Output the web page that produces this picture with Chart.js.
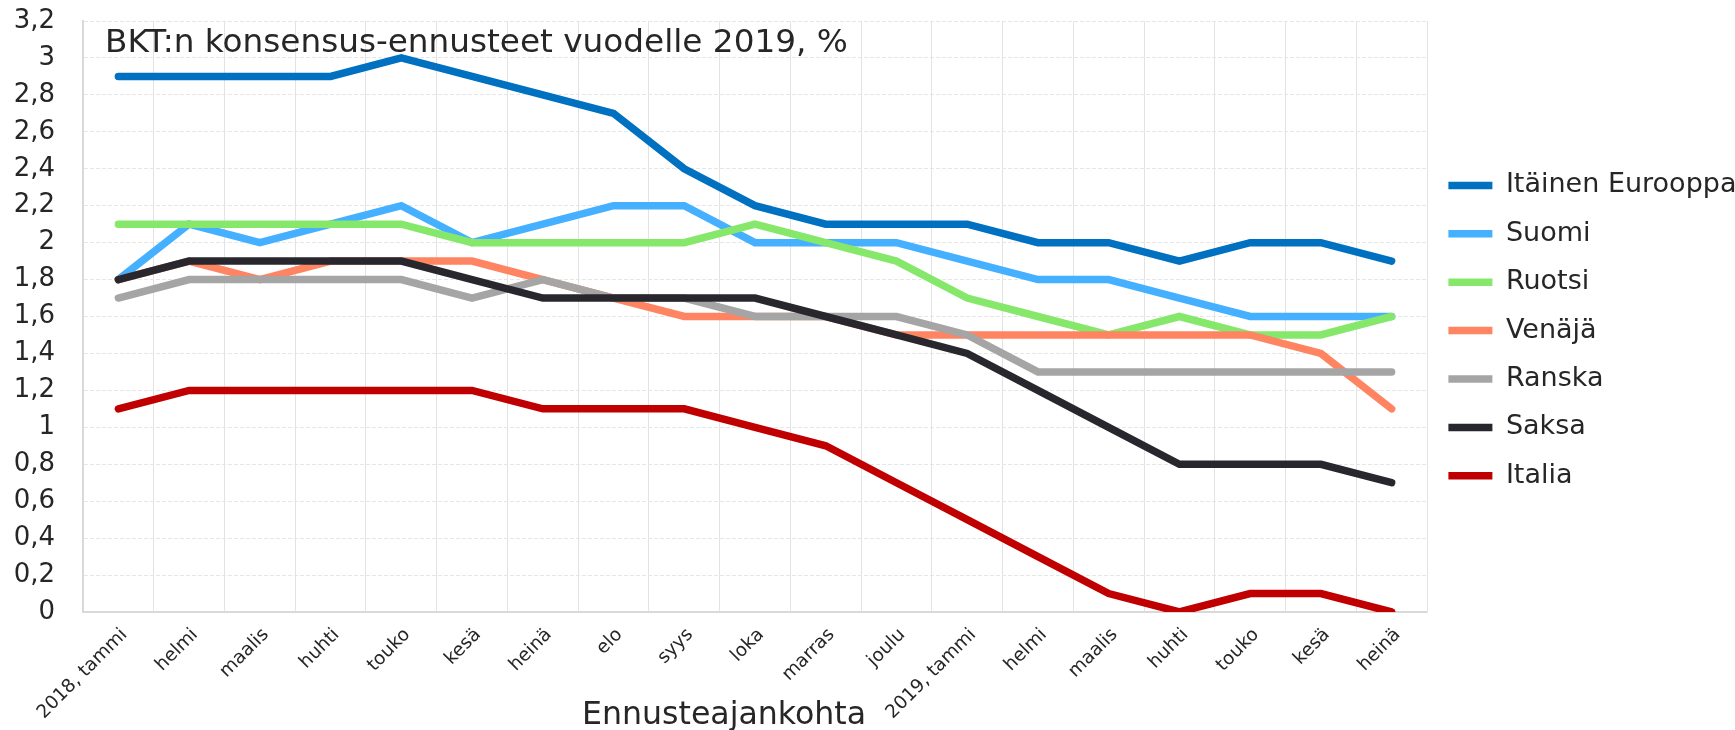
<!DOCTYPE html>
<html><head><meta charset="utf-8">
<script src="https://cdn.jsdelivr.net/npm/chart.js@4/dist/chart.umd.min.js"></script>
<style>
html,body{margin:0;padding:0;background:#fff;}
#wrap{position:relative;width:1735px;height:730px;overflow:hidden;}
.lbl{position:absolute;font-family:'DejaVu Sans',Verdana,sans-serif;color:#262626;white-space:nowrap;line-height:40px;}
#title{left:105px;top:21px;font-size:32.7px;}
#xtitle{left:582px;top:693px;font-size:31.6px;}
</style></head>
<body><div id="wrap"><canvas id="c" width="1735" height="730"></canvas>
<div id="title" class="lbl">BKT:n konsensus-ennusteet vuodelle 2019, %</div>
<div id="xtitle" class="lbl">Ennusteajankohta</div></div>
<script>
const categories = ["2018, tammi","helmi","maalis","huhti","touko","kesä","heinä","elo","syys","loka","marras","joulu","2019, tammi","helmi","maalis","huhti","touko","kesä","heinä"];
const itainenEurooppa = [2.9,2.9,2.9,2.9,3.0,2.9,2.8,2.7,2.4,2.2,2.1,2.1,2.1,2.0,2.0,1.9,2.0,2.0,1.9];
const suomi   = [1.8,2.1,2.0,2.1,2.2,2.0,2.1,2.2,2.2,2.0,2.0,2.0,1.9,1.8,1.8,1.7,1.6,1.6,1.6];
const ruotsi  = [2.1,2.1,2.1,2.1,2.1,2.0,2.0,2.0,2.0,2.1,2.0,1.9,1.7,1.6,1.5,1.6,1.5,1.5,1.6];
const venaja  = [1.8,1.9,1.8,1.9,1.9,1.9,1.8,1.7,1.6,1.6,1.6,1.5,1.5,1.5,1.5,1.5,1.5,1.4,1.1];
const ranska  = [1.7,1.8,1.8,1.8,1.8,1.7,1.8,1.7,1.7,1.6,1.6,1.6,1.5,1.3,1.3,1.3,1.3,1.3,1.3];
const saksa   = [1.8,1.9,1.9,1.9,1.9,1.8,1.7,1.7,1.7,1.7,1.6,1.5,1.4,1.2,1.0,0.8,0.8,0.8,0.7];
const italia  = [1.1,1.2,1.2,1.2,1.2,1.2,1.1,1.1,1.1,1.0,0.9,0.7,0.5,0.3,0.1,0.0,0.1,0.1,0.0];
const seriesNames = ["Itäinen Eurooppa","Suomi","Ruotsi","Venäjä","Ranska","Saksa","Italia"];
const seriesValues = [itainenEurooppa, suomi, ruotsi, venaja, ranska, saksa, italia];
const seriesColors = ["#0070C0","#45B0FF","#86E86A","#FF8461","#A5A5A5","#28272E","#C00000"];
const yMin = 0, yMax = 3.2, yStep = 0.2;

const textColor = "#262626";
const fam = "'DejaVu Sans', Verdana, sans-serif";

const datasets = seriesNames.map((n, i) => ({
  label: n,
  data: seriesValues[i],
  borderColor: seriesColors[i],
  backgroundColor: seriesColors[i],
  borderWidth: 7.5,
  borderCapStyle: 'round',
  borderJoinStyle: 'miter',
  pointRadius: 0,
  pointHoverRadius: 0,
  tension: 0,
  fill: false,
  order: seriesNames.length - i
}));

new Chart(document.getElementById('c'), {
  type: 'line',
  data: { labels: categories, datasets },
  options: {
    responsive: false,
    animation: false,
    devicePixelRatio: 1,
    layout: { padding: { left: 0, top: 21, right: 0, bottom: 0 } },
    plugins: {
      tooltip: { enabled: false },
      legend: {
        position: 'right',
        align: 'start',
        maxWidth: 308,
        title: { display: true, text: ' ', font: { size: 10 }, padding: { top: 117.5, bottom: 0 } },
        labels: {
          usePointStyle: true,
          pointStyle: 'line',
          pointStyleWidth: 44,
          boxHeight: 27,
          padding: 21.4,
          color: textColor,
          font: { family: fam, size: 27 },
          sort: (a, b) => a.datasetIndex - b.datasetIndex
        }
      }
    },
    scales: {
      x: {
        offset: true,
        grid: { offset: true, color: '#e3e3e3', lineWidth: 1, drawTicks: false },
        border: { color: '#d9d9d9', width: 2 },
        ticks: {
          autoSkip: false, maxRotation: 45, minRotation: 45, padding: 12, labelOffset: 6,
          color: textColor,
          font: { family: fam, size: 18.5 }
        },
        afterFit: s => { s.height = 118; }
      },
      y: {
        min: yMin, max: yMax,
        grid: { color: '#e6e6e6', lineWidth: 1, drawTicks: false },
        border: { color: '#d9d9d9', width: 2, dash: [4, 2] },
        ticks: {
          stepSize: yStep, padding: 28, color: textColor,
          font: { family: fam, size: 26 },
          callback: v => { const r = Math.round(v * 10) / 10; return String(r).replace('.', ','); }
        },
        afterFit: s => { s.width = 83; s.paddingTop = 0; s.paddingBottom = 0; }
      },
      y2: {
        position: 'right', min: yMin, max: yMax,
        grid: { drawOnChartArea: false, drawTicks: false },
        border: { color: '#e3e3e3', width: 1 },
        ticks: { display: false },
        afterFit: s => { s.width = 0; s.paddingTop = 0; s.paddingBottom = 0; }
      }
    }
  }
});
</script>
</body></html>
